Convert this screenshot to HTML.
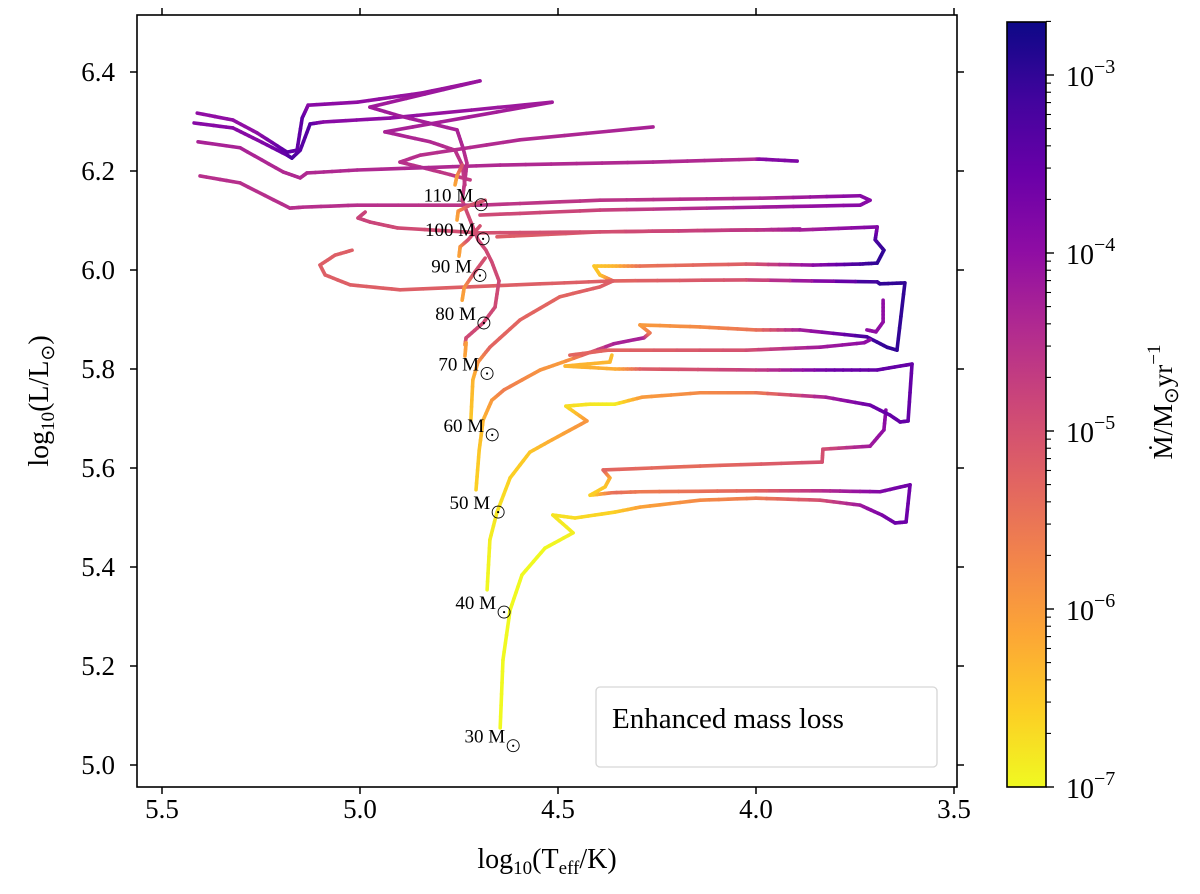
<!DOCTYPE html>
<html><head><meta charset="utf-8"><title>HR diagram</title>
<style>
html,body{margin:0;padding:0;background:#fff;}
svg{display:block;}
text{font-family:"Liberation Serif",serif;fill:#000;}
</style></head>
<body>
<svg id="chart" width="1200" height="894" viewBox="0 0 1200 894" xmlns="http://www.w3.org/2000/svg">
<defs>
<linearGradient id="cbgrad" x1="0" y1="1" x2="0" y2="0">
<stop offset="0" stop-color="#f0f921"/><stop offset="0.1" stop-color="#fcce25"/><stop offset="0.2" stop-color="#fca636"/><stop offset="0.3" stop-color="#f2844b"/><stop offset="0.4" stop-color="#e16462"/><stop offset="0.5" stop-color="#cc4778"/><stop offset="0.6" stop-color="#b12a90"/><stop offset="0.7" stop-color="#8f0da4"/><stop offset="0.8" stop-color="#6a00a8"/><stop offset="0.9" stop-color="#41049d"/><stop offset="1" stop-color="#0d0887"/>
</linearGradient>
<clipPath id="plotclip"><rect x="137" y="15" width="820" height="772"/></clipPath>
</defs>
<g id="tracks" clip-path="url(#plotclip)"></g>
<rect x="137" y="15" width="820" height="772" fill="none" stroke="#000" stroke-width="1.6"/>
<g id="axes"></g>
<g id="masslabels"></g>
<g>
<rect x="596" y="687" width="341" height="80" rx="4" fill="#fff" stroke="#d6d6d6" stroke-width="1.3"/>
<text x="612" y="728" font-size="29">Enhanced mass loss</text>
</g>
<rect x="1007" y="22" width="39" height="765" fill="url(#cbgrad)" stroke="#000" stroke-width="1.6"/>
<g id="cbticks"></g>
<text transform="translate(1172,402) rotate(-90)" text-anchor="middle" font-size="27">Ṁ/M<tspan font-size="20" dy="6">⊙</tspan><tspan dy="-6">yr</tspan><tspan font-size="19" dy="-12">−1</tspan></text>
<text x="547" y="868" text-anchor="middle" font-size="28">log<tspan font-size="19" dy="6">10</tspan><tspan dy="-6">(T</tspan><tspan font-size="19" dy="6">eff</tspan><tspan dy="-6">/K)</tspan></text>
<text transform="translate(48,401) rotate(-90)" text-anchor="middle" font-size="28">log<tspan font-size="19" dy="6">10</tspan><tspan dy="-6">(L/L</tspan><tspan font-size="19" dy="6">⊙</tspan><tspan dy="-6">)</tspan></text>
</svg>
<script>
// Data: each track point = [log10 Teff, log10 L, log10 Mdot]
const xTicks = [5.5, 5.0, 4.5, 4.0, 3.5];
const xTickLabels = ["5.5", "5.0", "4.5", "4.0", "3.5"];
const yTicks = [5.0, 5.2, 5.4, 5.6, 5.8, 6.0, 6.2, 6.4];
const yTickLabels = ["5.0", "5.2", "5.4", "5.6", "5.8", "6.0", "6.2", "6.4"];
const cbMajor = [-7, -6, -5, -4, -3];
const massLabels = ["30", "40", "50", "60", "70", "80", "90", "100", "110"];
const massLabelT = [4.598, 4.621, 4.636, 4.651, 4.664, 4.672, 4.682, 4.674, 4.679];
const massLabelL = [5.045, 5.315, 5.517, 5.673, 5.797, 5.899, 5.995, 6.069, 6.138];

const track30 = [[4.646,5.075,-7],[4.639,5.212,-7],[4.621,5.313,-7],[4.591,5.384,-7],[4.533,5.438,-7],[4.462,5.469,-6.9],[4.513,5.505,-6.8],[4.457,5.499,-6.7],[4.356,5.511,-6.6],[4.293,5.521,-6.1],[4.141,5.535,-5.8],[4.000,5.539,-5.6],[3.838,5.535,-5.0],[3.737,5.525,-4.2],[3.682,5.505,-3.8],[3.649,5.489,-3.6],[3.621,5.491,-3.6],[3.611,5.566,-3.6],[3.687,5.552,-3.8],[3.838,5.554,-4.5],[4.000,5.554,-5.3],[4.293,5.552,-5.6],[4.364,5.550,-5.4],[4.419,5.545,-6.6],[4.381,5.562,-6.5],[4.369,5.580,-6.3],[4.386,5.596,-5.3],[4.141,5.604,-5.4],[3.833,5.612,-5.0],[3.831,5.638,-5.0],[3.712,5.644,-4.2],[3.677,5.677,-4.0],[3.672,5.717,-3.9]];
const track40 = [[4.679,5.354,-7],[4.672,5.455,-6.9],[4.654,5.511,-6.8],[4.621,5.580,-6.6],[4.571,5.632,-6.5],[4.515,5.657,-6.2],[4.427,5.695,-5.9],[4.480,5.725,-6.7],[4.419,5.729,-6.8],[4.356,5.729,-6.9],[4.288,5.743,-6.0],[4.141,5.752,-5.8],[4.000,5.752,-5.6],[3.823,5.743,-4.3],[3.712,5.727,-3.6],[3.662,5.707,-3.5],[3.636,5.693,-3.5],[3.616,5.695,-3.5],[3.606,5.810,-3.5],[3.694,5.798,-3.5],[3.823,5.798,-3.6],[4.000,5.798,-4.7],[4.293,5.800,-5.2],[4.356,5.800,-6.2],[4.482,5.806,-6.3],[4.369,5.814,-6.3],[4.364,5.828,-6.4]];
const track50 = [[4.707,5.556,-6.6],[4.699,5.636,-6.5],[4.689,5.697,-6.3],[4.667,5.737,-6.0],[4.636,5.758,-5.6],[4.545,5.798,-5.9],[4.480,5.816,-6.0],[4.359,5.851,-4.3],[4.283,5.863,-4.3],[4.268,5.873,-5.5],[4.293,5.889,-6.0],[4.141,5.885,-5.8],[4.000,5.879,-5.5],[3.889,5.879,-4.3],[3.720,5.865,-3.2],[3.669,5.844,-3.0],[3.644,5.838,-3.0],[3.624,5.974,-3.0],[3.687,5.972,-3.0],[3.694,5.976,-3.0],[4.025,5.980,-5.0],[4.361,5.978,-5.3],[4.394,5.990,-6.4],[4.409,6.008,-6.5],[4.353,6.008,-6.3],[4.293,6.008,-5.5],[4.025,6.012,-5.2],[3.856,6.010,-4.0],[3.737,6.012,-3.2],[3.694,6.014,-3.0],[3.677,6.040,-3.0],[3.699,6.061,-3.2],[3.694,6.087,-3.8],[3.889,6.081,-4.3],[4.025,6.081,-5.0],[4.394,6.077,-5.1],[4.654,6.067,-5.2]];
const track60 = [[4.720,5.697,-6.5],[4.715,5.778,-6.3],[4.702,5.814,-6.0],[4.672,5.844,-5.3],[4.596,5.899,-5.3],[4.495,5.946,-5.3],[4.394,5.966,-5.2],[4.361,5.978,-5.2]];
const track90 = [[5.020,6.040,-5.2],[5.063,6.030,-5.2],[5.101,6.010,-5.2],[5.088,5.990,-5.2],[5.025,5.970,-5.2],[4.899,5.960,-5.2],[4.545,5.972,-5.2],[4.361,5.978,-5.2]];
const track350 = [[4.470,5.828,-5.3],[4.374,5.838,-5.3],[4.025,5.838,-5.0],[3.838,5.844,-4.2],[3.727,5.853,-4.0],[3.712,5.859,-4.0]];
const hook350 = [[3.679,5.939,-4.0],[3.679,5.895,-4.0],[3.697,5.875,-4.0],[3.720,5.879,-4.0]];
const spine = [[4.735,5.849,-6.0],[4.732,5.863,-4.9],[4.689,5.893,-4.9],[4.659,5.925,-4.9],[4.649,5.978,-4.9],[4.667,6.016,-4.9],[4.682,6.040,-4.9],[4.702,6.061,-4.9],[4.722,6.101,-4.9],[4.742,6.141,-4.9]];
const zams110 = [[4.760,6.172,-6.1],[4.755,6.190,-6.0],[4.742,6.212,-5.0]];
const zams100 = [[4.755,6.101,-6.1],[4.752,6.119,-6.0],[4.722,6.131,-5.0],[4.684,6.141,-5.0]];
const zams90 = [[4.750,6.028,-6.1],[4.747,6.047,-6.0],[4.727,6.061,-5.0],[4.697,6.089,-5.0]];
const zams80 = [[4.742,5.939,-6.1],[4.737,5.964,-6.0],[4.710,5.996,-5.0],[4.684,6.024,-5.0]];
const zams70 = [[4.735,5.826,-6.1],[4.732,5.853,-6.0]];
const trackTop1 = [[5.411,6.317,-4.0],[5.321,6.303,-4.0],[5.260,6.277,-4.0],[5.184,6.238,-3.4],[5.159,6.242,-3.5],[5.146,6.307,-3.4],[5.131,6.333,-3.9],[5.007,6.339,-4.0],[4.841,6.358,-4.1],[4.697,6.382,-4.1],[4.975,6.329,-4.2],[4.899,6.311,-4.2],[4.755,6.283,-4.3],[4.740,6.247,-4.4],[4.730,6.216,-4.5],[4.735,6.182,-4.6],[4.742,6.141,-4.7]];
const trackTop2 = [[5.419,6.297,-3.9],[5.321,6.287,-3.9],[5.260,6.263,-3.9],[5.184,6.232,-3.5],[5.172,6.226,-3.2],[5.151,6.242,-3.4],[5.126,6.295,-3.3],[5.093,6.299,-3.9],[4.924,6.307,-4.0],[4.515,6.339,-4.2],[4.937,6.279,-4.3],[4.823,6.259,-4.4],[4.760,6.242,-4.5],[4.742,6.212,-4.6],[4.735,6.172,-4.7]];
const trackFold = [[4.260,6.289,-4.3],[4.596,6.263,-4.4],[4.848,6.232,-4.5],[4.899,6.218,-4.5],[4.798,6.198,-4.6],[4.722,6.182,-4.7]];
const trackLine3 = [[5.409,6.259,-4.3],[5.303,6.247,-4.3],[5.194,6.198,-4.4],[5.151,6.186,-4.4],[5.134,6.196,-4.4],[5.007,6.202,-4.4],[4.646,6.212,-4.4],[4.260,6.218,-4.4],[4.000,6.224,-4.4],[3.990,6.224,-3.9],[3.896,6.220,-3.8]];
const trackLine4 = [[5.404,6.190,-4.5],[5.303,6.176,-4.5],[5.177,6.125,-4.5],[5.144,6.127,-4.5],[5.007,6.131,-4.5],[4.697,6.131,-4.6],[4.394,6.141,-4.6],[3.990,6.145,-4.4],[3.737,6.150,-3.9],[3.712,6.141,-3.9],[3.737,6.131,-3.9],[3.990,6.127,-4.2],[4.394,6.121,-4.8],[4.697,6.111,-4.9]];
const trackLine5 = [[4.987,6.117,-4.8],[5.005,6.105,-4.8],[4.975,6.097,-4.8],[4.906,6.085,-4.9],[4.697,6.075,-5.0],[4.394,6.077,-5.0],[3.997,6.081,-4.6],[3.889,6.083,-4.2]];

const allTracks = [track30, track40, track50, track60, track90, track350, hook350, spine, trackFold, trackLine3, trackLine4, trackLine5, trackTop2, trackTop1, zams110, zams100, zams90, zams80, zams70];
const trackNames = ["track-30","track-40","track-50","track-60","track-90","track-5-84","hook-5-9","track-spine","track-fold","track-6-22","track-6-14","track-6-08","track-top-2","track-top-1","zams-110","zams-100","zams-90","zams-80","zams-70"];

const NS = "http://www.w3.org/2000/svg";
function xS(t){ return 162 + (5.5 - t) * 396; }
function yS(l){ return 72 + (6.4 - l) * 495; }
function cbY(m){ return 787 - (m + 7) * 178; }
const plasma = [[13,8,135],[65,4,157],[106,0,168],[143,13,164],[177,42,144],[204,71,120],[225,100,98],[242,132,75],[252,166,54],[252,206,37],[240,249,33]];
function color(m){
  let t = (m + 7) / 4.3; t = Math.max(0, Math.min(1, t));
  let u = (1 - t) * 10; let i = Math.min(9, Math.floor(u)); let f = u - i;
  const a = plasma[i], b = plasma[i+1];
  return "rgb(" + [0,1,2].map(k => Math.round(a[k] + (b[k]-a[k]) * f)).join(",") + ")";
}
function mk(tag, attrs, parent){
  const e = document.createElementNS(NS, tag);
  for (const k in attrs) e.setAttribute(k, attrs[k]);
  parent.appendChild(e); return e;
}
const gT = document.getElementById("tracks");
allTracks.forEach((tr, ti) => {
  const g = mk("g", {}, gT);
  
  
  for (let i = 0; i < tr.length - 1; i++) {
    const p = tr[i], q = tr[i+1];
    const steps = 6;
    for (let s = 0; s < steps; s++) {
      const f0 = s / steps, f1 = (s + 1) / steps;
      const m = p[2] + (q[2] - p[2]) * (f0 + f1) / 2;
      const ln = mk("line", {
        x1: xS(p[0] + (q[0]-p[0]) * f0), y1: yS(p[1] + (q[1]-p[1]) * f0),
        x2: xS(p[0] + (q[0]-p[0]) * f1), y2: yS(p[1] + (q[1]-p[1]) * f1),
        stroke: color(m), "stroke-width": 3.6, "stroke-linecap": "round"
      }, g);
      
      
    }
  }
});
const gA = document.getElementById("axes");
xTicks.forEach((v, i) => {
  const x = xS(v);
  const t1 = mk("line", {x1:x, y1:787, x2:x, y2:794, stroke:"#000", "stroke-width":1.5}, gA);
  
  
  const t2 = mk("line", {x1:x, y1:15, x2:x, y2:8, stroke:"#000", "stroke-width":1.5}, gA);
  
  
  const tx = mk("text", {x:x, y:818, "text-anchor":"middle", "font-size":27}, gA);
  tx.textContent = xTickLabels[i];
  
  
});
yTicks.forEach((v, i) => {
  const y = yS(v);
  const t1 = mk("line", {x1:130, y1:y, x2:137, y2:y, stroke:"#000", "stroke-width":1.5}, gA);
  
  
  const t2 = mk("line", {x1:957, y1:y, x2:964, y2:y, stroke:"#000", "stroke-width":1.5}, gA);
  
  
  const tx = mk("text", {x:115, y:y+9, "text-anchor":"end", "font-size":27}, gA);
  tx.textContent = yTickLabels[i];
  
  
});
const gC = document.getElementById("cbticks");
cbMajor.forEach(m => {
  const y = cbY(m);
  const t = mk("line", {x1:1046, y1:y, x2:1054, y2:y, stroke:"#000", "stroke-width":1.4}, gC);
  
  
  const tx = mk("text", {x:1066, y:y+11, "font-size":28}, gC);
  
  
  const a = document.createElementNS(NS, "tspan"); a.textContent = "10"; tx.appendChild(a);
  const b = document.createElementNS(NS, "tspan"); b.setAttribute("dy", "-13"); b.setAttribute("font-size", "20"); b.textContent = "−" + (-m); tx.appendChild(b);
  const kmax = m < -3 ? 9 : 2;
  for (let k = 2; k <= kmax; k++) {
    const yy = cbY(m + Math.log10(k));
    const mt = mk("line", {x1:1046, y1:yy, x2:1051, y2:yy, stroke:"#000", "stroke-width":1.1}, gC);
    
    
  }
});
const gM = document.getElementById("masslabels");
massLabels.forEach((lab, i) => {
  const x = xS(massLabelT[i]), y = yS(massLabelL[i]);
  const tx = mk("text", {x:x - 14, y:y, "text-anchor":"end", "font-size":19}, gM);
  tx.textContent = lab + " M";
  
  
  const c = mk("circle", {cx:x - 6, cy:y + 3, r:6, fill:"none", stroke:"#000", "stroke-width":0.9}, gM);
  
  
  const d = mk("circle", {cx:x - 6, cy:y + 3, r:1.1, fill:"#000"}, gM);
  
  
});
</script>
</body></html>
